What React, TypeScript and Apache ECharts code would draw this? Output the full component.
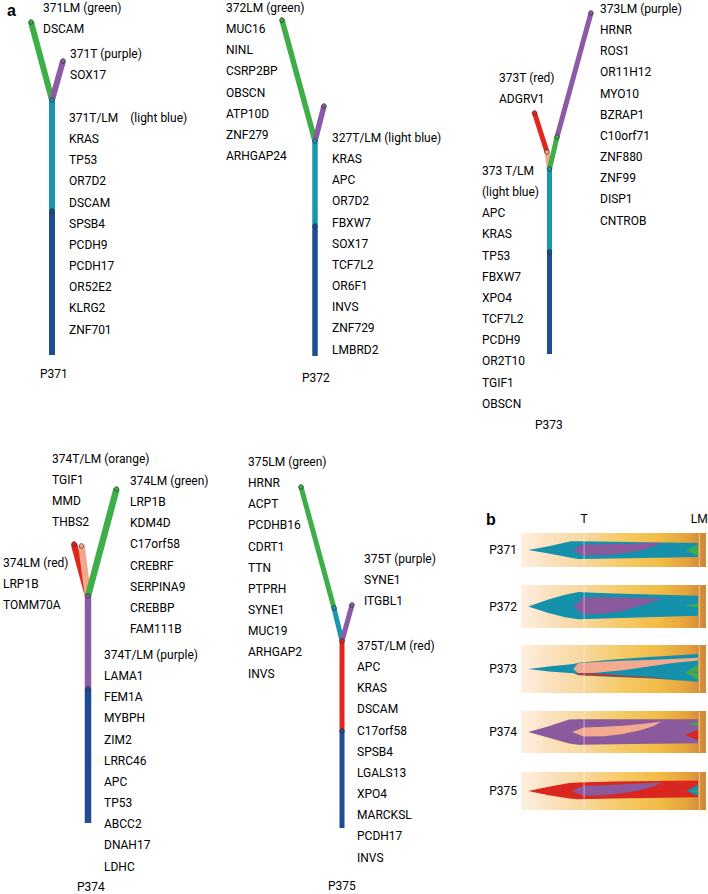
import React, { useEffect, useRef } from "react";
import * as echarts from "echarts";

// ---------------- colours ----------------
const TREE_COLORS: Record<string, string> = {
  green: "#3dae48",
  purple: "#8b5ca5",
  teal: "#1a97b0",
  darkblue: "#204d92",
  red: "#e1261c",
  salmon: "#f3a88b",
};
const FISH_COLORS: Record<string, string> = {
  green: "#3fab49",
  purple: "#8a5a9d",
  teal: "#1591ab",
  red: "#d9261f",
  salmon: "#f3aa8f",
};
const TEXT_COLOR = "#000000";
const FONT = "12px Roboto";

// ---------------- panel a: phylogenetic trees ----------------
// branches: [clone, dx1, h1, dx2, h2]  (offset from trunk, height above trunk base)
const P371_BRANCHES: [string, number, number, number, number][] = [
  ["darkblue", 0, 0, 0, 144],
  ["teal", 0, 144, 0, 255],
  ["green", 0, 255, -21, 333],
  ["purple", 0, 255, 11, 294],
];
const P372_BRANCHES: [string, number, number, number, number][] = [
  ["darkblue", 0, 0, 0, 130],
  ["teal", 0, 130, 0, 215],
  ["green", 0, 215, -33, 336],
  ["purple", 0, 215, 9, 250],
];
const P373_BRANCHES: [string, number, number, number, number][] = [
  ["darkblue", 0, 0, 0, 102],
  ["teal", 0, 102, 0, 185],
  ["salmon", 0, 185, -2.5, 202],
  ["red", -2.5, 202, -15, 241],
  ["green", 0, 185, 7.5, 217],
  ["purple", 7.5, 217, 41.5, 341],
];
const P374_BRANCHES: [string, number, number, number, number][] = [
  ["darkblue", 0, 0, 0, 134],
  ["purple", 0, 134, 0, 227],
  ["red", 0, 227, -14, 279],
  ["salmon", 0, 227, -6.5, 277],
  ["green", 0, 227, 28.5, 334],
];
const P375_BRANCHES: [string, number, number, number, number][] = [
  ["darkblue", 0, 0, 0, 97],
  ["red", 0, 97, 0, 187],
  ["teal", 0, 187, -8, 220],
  ["green", -8, 220, -41, 341],
  ["purple", 0, 187, 10, 223],
];

// gene lists
const G371_LM = ["371LM (green)", "DSCAM"];
const G371_T = ["371T (purple)", "SOX17"];
const G371_TLM = ["371T/LM    (light blue)", "KRAS", "TP53", "OR7D2", "DSCAM", "SPSB4", "PCDH9", "PCDH17", "OR52E2", "KLRG2", "ZNF701"];
const G372_LM = ["372LM (green)", "MUC16", "NINL", "CSRP2BP", "OBSCN", "ATP10D", "ZNF279", "ARHGAP24"];
const G372_TLM = ["327T/LM (light blue)", "KRAS", "APC", "OR7D2", "FBXW7", "SOX17", "TCF7L2", "OR6F1", "INVS", "ZNF729", "LMBRD2"];
const G373_T = ["373T (red)", "ADGRV1"];
const G373_LM = ["373LM (purple)", "HRNR", "ROS1", "OR11H12", "MYO10", "BZRAP1", "C10orf71", "ZNF880", "ZNF99", "DISP1", "CNTROB"];
const G373_TLM = ["373 T/LM", "(light blue)", "APC", "KRAS", "TP53", "FBXW7", "XPO4", "TCF7L2", "PCDH9", "OR2T10", "TGIF1", "OBSCN"];
const G374_TLM_O = ["374T/LM (orange)", "TGIF1", "MMD", "THBS2"];
const G374_LM_G = ["374LM (green)", "LRP1B", "KDM4D", "C17orf58", "CREBRF", "SERPINA9", "CREBBP", "FAM111B"];
const G374_LM_R = ["374LM (red)", "LRP1B", "TOMM70A"];
const G374_TLM_P = ["374T/LM (purple)", "LAMA1", "FEM1A", "MYBPH", "ZIM2", "LRRC46", "APC", "TP53", "ABCC2", "DNAH17", "LDHC"];
const G375_LM = ["375LM (green)", "HRNR", "ACPT", "PCDHB16", "CDRT1", "TTN", "PTPRH", "SYNE1", "MUC19", "ARHGAP2", "INVS"];
const G375_T = ["375T (purple)", "SYNE1", "ITGBL1"];
const G375_TLM = ["375T/LM (red)", "APC", "KRAS", "DSCAM", "C17orf58", "SPSB4", "LGALS13", "XPO4", "MARCKSL", "PCDH17", "INVS"];

const PATIENTS = ["P371", "P372", "P373", "P374", "P375"];

// ---------------- panel b: fish plots ----------------
// samples: [time, lower, upper] (fraction of box half-height)
const SAMPLE_NAMES = ["T", "LM"];
const SAMPLE_TIMES = [34.1, 96.4];

type Clone = { clone: string; s: number[][] };
const FISH_P371: Clone[] = [
  { clone: "teal", s: [[3.9, 0, 0], [15, -0.2, 0.22], [27, -0.46, 0.51], [31, -0.53, 0.51], [50, -0.5, 0.48], [95.7, -0.41, 0.41]] },
  { clone: "purple", s: [[27.7, 0, 0], [32.8, -0.3, 0.31], [34, -0.34, 0.32], [45, -0.3, 0.34], [55, -0.2, 0.36], [65, -0.02, 0.39], [72, 0.2, 0.42], [76, 0.43, 0.43]] },
  { clone: "green", s: [[89.2, 0, 0], [95.7, -0.34, 0.31]] },
];
const FISH_P372: Clone[] = [
  { clone: "teal", s: [[3.9, 0, 0], [14.8, -0.3, 0.33], [23.8, -0.5, 0.55], [31, -0.59, 0.68], [50, -0.55, 0.6], [95.7, -0.43, 0.5]] },
  { clone: "purple", s: [[28.3, 0, 0], [33.7, -0.37, 0.43], [45, -0.33, 0.43], [55, -0.2, 0.42], [65, 0.05, 0.39], [72, 0.25, 0.37], [76, 0.35, 0.35]] },
  { clone: "green", s: [[88.5, 0.05, 0.05], [95.7, -0.05, 0.15]] },
];
const FISH_P373: Clone[] = [
  { clone: "teal", s: [[3.9, 0, 0], [15, -0.1, 0.1], [28.3, -0.18, 0.21], [31, -0.26, 0.26], [50, -0.33, 0.4], [69, -0.39, 0.5], [95.7, -0.53, 0.63]] },
  { clone: "salmon", s: [[28.3, 0, 0], [30.8, -0.18, 0.24], [40, -0.16, 0.29], [55, -0.05, 0.34], [69, 0.1, 0.375], [82, 0.25, 0.42], [95.7, 0.35, 0.47]] },
  { clone: "red", s: [[30, -0.19, -0.18], [32, -0.25, -0.17], [40, -0.27, -0.19], [55, -0.32, -0.27], [70, -0.37, -0.34], [81.5, -0.41, -0.41]] },
  { clone: "green", s: [[88.6, -0.14, -0.14], [95.7, -0.46, 0.17]] },
  { clone: "purple", s: [[92, -0.13, -0.13], [95.7, -0.17, -0.1]] },
];
const FISH_P374: Clone[] = [
  { clone: "purple", s: [[3.9, 0, 0], [15, -0.27, 0.27], [26, -0.55, 0.6], [31, -0.61, 0.61], [50, -0.58, 0.61], [95.7, -0.54, 0.61]] },
  { clone: "salmon", s: [[27.7, 0, 0], [33.7, -0.22, 0.22], [45, -0.2, 0.25], [55, -0.1, 0.3], [65, 0.1, 0.38], [72, 0.3, 0.45], [76, 0.5, 0.5]] },
  { clone: "green", s: [[89.5, 0.38, 0.38], [95.7, 0.3, 0.45]] },
  { clone: "red", s: [[88.6, -0.14, -0.14], [95.7, -0.38, 0.11]] },
];
const FISH_P375: Clone[] = [
  { clone: "red", s: [[3.9, 0, 0], [15, -0.22, 0.22], [26, -0.4, 0.42], [31, -0.43, 0.45], [50, -0.4, 0.5], [95.7, -0.33, 0.55]] },
  { clone: "purple", s: [[27.3, 0, 0], [33.7, -0.25, 0.27], [45, -0.22, 0.3], [55, -0.12, 0.35], [65, 0.05, 0.4], [72, 0.25, 0.44], [76, 0.45, 0.45]] },
  { clone: "teal", s: [[89.2, 0, 0], [95.7, -0.25, 0.33]] },
  { clone: "green", s: [[91.5, 0, 0], [95.7, -0.05, 0.05]] },
];
const FISH = [FISH_P371, FISH_P372, FISH_P373, FISH_P374, FISH_P375];

// ---------------- layout ----------------
const W = 708;
const H = 894;
const LINE_H = 21.15;
const TREE_LAYOUT = [
  { base: [52, 355], width: 6, branches: P371_BRANCHES, label: [40, 374], blocks: [[43, 8, G371_LM], [70, 54, G371_T], [69, 118, G371_TLM]] },
  { base: [315, 356], width: 5.5, branches: P372_BRANCHES, label: [302, 378], blocks: [[226, 8, G372_LM], [332, 138, G372_TLM]] },
  { base: [549.5, 354], width: 5, branches: P373_BRANCHES, label: [535, 425], blocks: [[499, 78, G373_T], [600, 9, G373_LM], [482, 171, G373_TLM]] },
  { base: [88, 823], width: 6.5, branches: P374_BRANCHES, label: [77, 887], blocks: [[52, 459, G374_TLM_O], [130, 481, G374_LM_G], [3, 563, G374_LM_R], [104, 655, G374_TLM_P]] },
  { base: [342, 828], width: 5, branches: P375_BRANCHES, label: [328, 886], blocks: [[248, 462, G375_LM], [364, 559, G375_T], [357, 646, G375_TLM]] },
];
const FISH_LEFT = 521;
const FISH_W = 185;
const FISH_TOP = [533, 585, 645, 711, 772];
const FISH_H = [34, 43, 48, 42, 38];

function buildOption(): any {
  const segs = TREE_LAYOUT.flatMap((t) =>
    t.branches.map(([clone, x1, h1, x2, h2]) => ({
      clone,
      w: t.width,
      v: [t.base[0] + x1, t.base[1] - h1, t.base[0] + x2, t.base[1] - h2],
    }))
  );

  const grids: any[] = [{ left: 0, top: 0, width: W, height: H }];
  const xAxes: any[] = [{ gridIndex: 0, type: "value", min: 0, max: W, show: false }];
  const yAxes: any[] = [{ gridIndex: 0, type: "value", min: 0, max: H, inverse: true, show: false }];
  FISH.forEach((_, i) => {
    grids.push({ left: FISH_LEFT, top: FISH_TOP[i], width: FISH_W, height: FISH_H[i] });
    xAxes.push({ gridIndex: i + 1, type: "value", min: 0, max: 100, show: false });
    yAxes.push({ gridIndex: i + 1, type: "value", min: -1, max: 1, show: false });
  });

  const series: any[] = [];
  series.push({
    type: "custom",
    name: "branches",
    xAxisIndex: 0,
    yAxisIndex: 0,
    silent: true,
    z: 2,
    encode: { x: [0, 2], y: [1, 3] },
    data: segs.map((s) => s.v),
    renderItem: (params: any, api: any) => {
      const s = segs[params.dataIndex];
      const a = api.coord([api.value(0), api.value(1)]);
      const b = api.coord([api.value(2), api.value(3)]);
      return {
        type: "line",
        shape: { x1: a[0], y1: a[1], x2: b[0], y2: b[1] },
        style: { stroke: TREE_COLORS[s.clone], lineWidth: s.w, lineCap: "butt" },
      };
    },
  });
  series.push({
    type: "custom",
    name: "nodes",
    xAxisIndex: 0,
    yAxisIndex: 0,
    silent: true,
    z: 3,
    encode: { x: [0, 2], y: [1, 3] },
    data: segs.map((s) => s.v),
    renderItem: (params: any, api: any) => {
      const s = segs[params.dataIndex];
      const b = api.coord([api.value(2), api.value(3)]);
      return {
        type: "circle",
        shape: { cx: b[0], cy: b[1], r: 2.3 },
        style: { fill: TREE_COLORS[s.clone], stroke: "#2a2a2a", lineWidth: 0.7 },
      };
    },
  });

  const gradient = new echarts.graphic.LinearGradient(0, 0, 1, 0, [
    { offset: 0, color: "#fdf0e0" },
    { offset: 0.15, color: "#fbe2c0" },
    { offset: 0.35, color: "#f8d79a" },
    { offset: 0.55, color: "#f5ca65" },
    { offset: 0.75, color: "#f1bb45" },
    { offset: 0.9, color: "#e5a23c" },
    { offset: 0.96, color: "#d88f38" },
    { offset: 1, color: "#d08838" },
  ]);

  FISH.forEach((clones, i) => {
    series.push({
      type: "custom",
      name: PATIENTS[i] + " box",
      xAxisIndex: i + 1,
      yAxisIndex: i + 1,
      silent: true,
      z: 1,
      data: [[0, -1, 100, 1]],
      renderItem: (_p: any, api: any) => {
        const a = api.coord([api.value(0), api.value(3)]);
        const b = api.coord([api.value(2), api.value(1)]);
        return {
          type: "rect",
          shape: { x: a[0], y: a[1], width: b[0] - a[0], height: b[1] - a[1] },
          style: { fill: gradient },
        };
      },
    });
    series.push({
      type: "custom",
      name: PATIENTS[i] + " clones",
      xAxisIndex: i + 1,
      yAxisIndex: i + 1,
      silent: true,
      z: 2,
      data: clones.map((c) => [c.s[0][0], 0]),
      renderItem: (params: any, api: any) => {
        const c = clones[params.dataIndex];
        const top = c.s.map((p) => api.coord([p[0], p[2]]));
        const bot = c.s.map((p) => api.coord([p[0], p[1]])).reverse();
        return {
          type: "polygon",
          shape: { points: top.concat(bot) },
          style: { fill: FISH_COLORS[c.clone] },
        };
      },
    });
    series.push({
      type: "custom",
      name: PATIENTS[i] + " samples",
      xAxisIndex: i + 1,
      yAxisIndex: i + 1,
      silent: true,
      z: 3,
      data: SAMPLE_TIMES.map((t) => [t, 0]),
      renderItem: (_p: any, api: any) => {
        const a = api.coord([api.value(0), 1]);
        const b = api.coord([api.value(0), -1]);
        return {
          type: "line",
          shape: { x1: a[0], y1: a[1], x2: b[0], y2: b[1] },
          style: { stroke: "rgba(255,255,255,0.5)", lineWidth: 1 },
        };
      },
    });
  });

  // texts
  const txt = (x: number, y: number, text: string, align = "left", font = FONT) => ({
    type: "text",
    x,
    y,
    silent: true,
    style: { text, x: 0, y: 0, fill: TEXT_COLOR, font, textAlign: align, textVerticalAlign: "middle", align, verticalAlign: "middle" },
  });
  const graphic: any[] = [];
  graphic.push(txt(7, 10, "a", "left", "bold 16px 'Liberation Sans'"));
  graphic.push(txt(486, 519, "b", "left", "bold 16px 'Liberation Sans'"));
  TREE_LAYOUT.forEach((t, i) => {
    t.blocks.forEach((b: any) => {
      (b[2] as string[]).forEach((line, k) => graphic.push(txt(b[0], b[1] + k * LINE_H, line)));
    });
    graphic.push(txt(t.label[0], t.label[1], PATIENTS[i]));
  });
  SAMPLE_NAMES.forEach((n, k) => {
    graphic.push(txt(FISH_LEFT + (SAMPLE_TIMES[k] / 100) * FISH_W, 519, n, "center"));
  });
  PATIENTS.forEach((p, i) => {
    graphic.push(txt(517, FISH_TOP[i] + FISH_H[i] / 2, p, "right"));
  });

  return {
    animation: false,
    backgroundColor: "#ffffff",
    grid: grids,
    xAxis: xAxes,
    yAxis: yAxes,
    series,
    graphic,
  };
}

export default function App() {
  const ref = useRef<HTMLDivElement>(null);
  useEffect(() => {
    const chart = echarts.init(ref.current!, null, { renderer: "svg" });
    chart.setOption(buildOption());
    return () => chart.dispose();
  }, []);
  return (
    <div
      ref={ref}
      style={{ position: "absolute", left: 0, top: 0, width: W, height: H, background: "#fff" }}
    />
  );
}
